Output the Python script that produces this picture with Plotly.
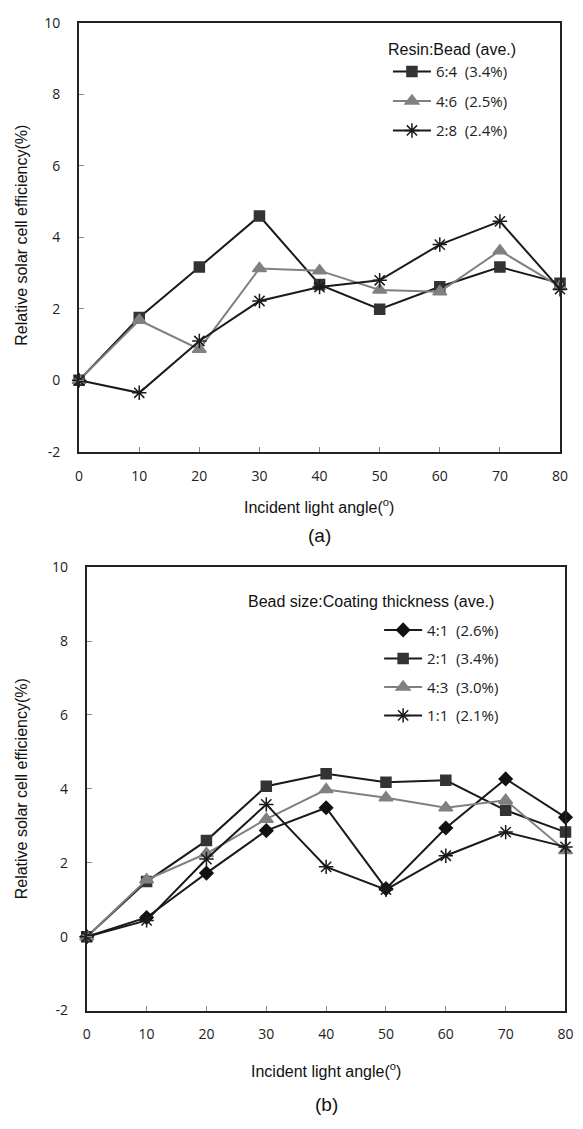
import plotly.graph_objects as go

angles = [0, 10, 20, 30, 40, 50, 60, 70, 80]

# (a) Resin:Bead
a_names = ["6:4\u00a0\u00a0(3.4%)", "4:6\u00a0\u00a0(2.5%)", "2:8\u00a0\u00a0(2.4%)"]
a_64 = [0, 1.76, 3.17, 4.6, 2.68, 1.99, 2.62, 3.17, 2.72]
a_46 = [0, 1.68, 0.87, 3.13, 3.07, 2.53, 2.48, 3.63, 2.62]
a_28 = [0, -0.35, 1.1, 2.22, 2.61, 2.8, 3.8, 4.45, 2.55]

# (b) Bead size:Coating thickness
b_names = ["4:1\u00a0\u00a0(2.6%)", "2:1\u00a0\u00a0(3.4%)", "4:3\u00a0\u00a0(3.0%)", "1:1\u00a0\u00a0(2.1%)"]
b_41 = [0, 0.52, 1.72, 2.87, 3.49, 1.3, 2.94, 4.27, 3.23]
b_21 = [0, 1.49, 2.6, 4.07, 4.41, 4.18, 4.23, 3.42, 2.83]
b_43 = [0, 1.54, 2.25, 3.18, 3.98, 3.76, 3.49, 3.69, 2.33]
b_11 = [0, 0.44, 2.1, 3.58, 1.89, 1.27, 2.19, 2.83, 2.43]

y_ticks = [-2, 0, 2, 4, 6, 8, 10]
y_ticktext = ["-2", "0", "2", "4", "6", "8", "10"]
x_ticks = angles

W, H = 583, 1129
def px(x):
    return x / W
def py(y):
    return (H - y) / H

BLACK = "#1a1a1a"
DARK = "#333333"
GRAY = "#808080"

fig = go.Figure()

def add(x, y, name, xa, ya, color, mcolor, symbol, size, legend, group):
    fig.add_trace(go.Scatter(
        x=x, y=y, name=name, mode="lines+markers",
        xaxis=xa, yaxis=ya, legend=legend, legendgroup=group,
        line=dict(color=color, width=2),
        marker=dict(symbol=symbol, size=size, color=mcolor,
                    line=dict(color=mcolor, width=1.5)),
        cliponaxis=False,
    ))

add(angles, a_64, a_names[0], "x", "y", BLACK, DARK, "square", 10, "legend", "a1")
add(angles, a_46, a_names[1], "x", "y", GRAY, GRAY, "triangle-up", 12, "legend", "a2")
add(angles, a_28, a_names[2], "x", "y", BLACK, BLACK, "asterisk-open", 12, "legend", "a3")

add(angles, b_41, b_names[0], "x2", "y2", BLACK, "#111111", "diamond", 10, "legend2", "b1")
add(angles, b_21, b_names[1], "x2", "y2", BLACK, DARK, "square", 10, "legend2", "b2")
add(angles, b_43, b_names[2], "x2", "y2", GRAY, GRAY, "triangle-up", 12, "legend2", "b3")
add(angles, b_11, b_names[3], "x2", "y2", BLACK, BLACK, "asterisk-open", 12, "legend2", "b4")

tickfont = dict(family="Open Sans", size=14, color="#222")
axis_common = dict(showline=True, linecolor="#222", linewidth=2, mirror=True,
                   ticks="inside", ticklen=5, tickcolor="#888", tickwidth=1,
                   showgrid=False, zeroline=False, tickfont=tickfont)

fig.update_layout(
    width=W, height=H, margin=dict(l=0, r=0, t=0, b=0),
    paper_bgcolor="white", plot_bgcolor="white",
    showlegend=True,
    xaxis=dict(domain=[px(76.7), px(567.7)], range=[0, 80], tickvals=x_ticks,
               anchor="y", ticklabelstandoff=10, **axis_common),
    yaxis=dict(domain=[py(449.3), py(13.3)], range=[-2, 10], tickvals=y_ticks,
               ticktext=y_ticktext, anchor="x", ticklabelstandoff=14, **axis_common),
    xaxis2=dict(domain=[px(84.5), px(573.3)], range=[0, 80], tickvals=x_ticks,
                anchor="y2", ticklabelstandoff=10, **axis_common),
    yaxis2=dict(domain=[py(1017.7), py(566.7)], range=[-2, 10], tickvals=y_ticks,
                ticktext=y_ticktext, anchor="x2", ticklabelstandoff=14, **axis_common),
    legend=dict(x=px(392), y=py(46), xanchor="left", yanchor="top",
                font=dict(family="Open Sans", size=15, color="#222"),
                bgcolor="rgba(0,0,0,0)", itemwidth=38, tracegroupgap=7),
    legend2=dict(x=px(383), y=py(614), xanchor="left", yanchor="top",
                 font=dict(family="Open Sans", size=15, color="#222"),
                 bgcolor="rgba(0,0,0,0)", itemwidth=38, tracegroupgap=6),
)

title_font = dict(family="Liberation Sans", size=16, color="#111")
ann = [
    dict(text="Resin:Bead (ave.)", x=px(390), y=py(40), xanchor="left", yanchor="middle",
         font=title_font),
    dict(text="Bead size:Coating thickness (ave.)", x=px(247), y=py(602), xanchor="left",
         yanchor="middle", font=title_font),
    dict(text="Incident light angle(<sup>o</sup>)", x=px(322), y=py(504), xanchor="center",
         yanchor="middle", font=title_font),
    dict(text="Incident light angle(<sup>o</sup>)", x=px(329), y=py(1077.7), xanchor="center",
         yanchor="middle", font=title_font),
    dict(text="(a)", x=px(322), y=py(535), xanchor="center", yanchor="middle",
         font=dict(family="Liberation Sans", size=19, color="#111")),
    dict(text="(b)", x=px(329), y=py(1113), xanchor="center", yanchor="middle",
         font=dict(family="Liberation Sans", size=19, color="#111")),
    dict(text="Relative solar cell efficiency(%)", x=px(18), y=py(229), xanchor="center",
         yanchor="middle", textangle=-90, font=title_font),
    dict(text="Relative solar cell efficiency(%)", x=px(18), y=py(792), xanchor="center",
         yanchor="middle", textangle=-90, font=title_font),
]
for a in ann:
    a.update(xref="paper", yref="paper", showarrow=False)
fig.update_layout(annotations=ann)

fig.write_html("out.html")
